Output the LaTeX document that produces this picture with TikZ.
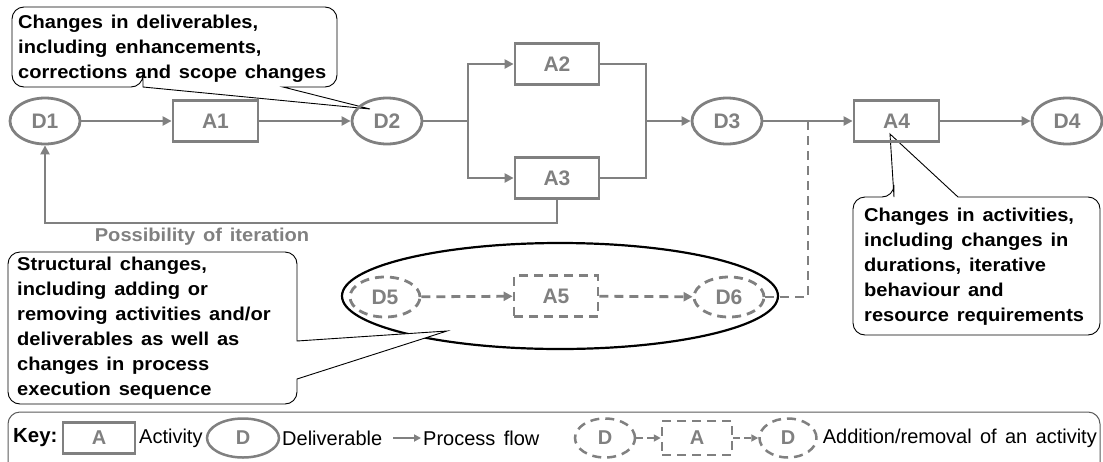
\documentclass[tikz,border=0pt]{standalone}
\usepackage{fontspec}
\setmainfont{Liberation Sans}
\newfontfamily\calfont[FakeStretch=1.08,WordSpace=1.4]{Liberation Sans}
\newfontfamily\keyfont[WordSpace=1.5]{Liberation Sans}
\usetikzlibrary{arrows.meta,shapes.geometric}
\definecolor{flowgray}{RGB}{128,128,128}
\definecolor{keyline}{RGB}{90,90,90}
\begin{document}
\begin{tikzpicture}[x=1pt,y=-1pt,
  lbl/.style={font=\fontsize{21}{21}\selectfont\bfseries, text=flowgray},
  act/.style={lbl, draw=flowgray, line width=2.8pt, minimum width=85pt, minimum height=41pt, inner sep=0pt},
  dlv/.style={lbl, ellipse, draw=flowgray, line width=2.8pt, minimum width=70pt, minimum height=46pt, inner sep=0pt},
  flow/.style={draw=flowgray, line width=2.8pt},
  flowarrow/.style={flow, -{Triangle[length=9pt,width=9pt]}},
  optional/.style={dash pattern=on 9pt off 6pt},
  note/.style={draw=black, line width=0.9pt, fill=white},
  notetext/.style={font=\calfont\bfseries\fontsize{18.6}{25}\selectfont, align=left, inner sep=0pt, anchor=north west},
  keytext/.style={font=\keyfont\fontsize{20}{20}\selectfont, inner sep=0pt, anchor=west},
  keyact/.style={act, line width=2.5pt, minimum width=72pt, minimum height=31pt, font=\fontsize{20}{20}\selectfont\bfseries},
  keydlv/.style={dlv, line width=2.5pt, minimum width=72pt, minimum height=39pt, font=\fontsize{20}{20}\selectfont\bfseries},
  keyarrow/.style={flow, line width=2.5pt, -{Triangle[length=7pt,width=7pt]}},
]
\useasboundingbox (0,0) rectangle (1103,461);

% group of optional elements
\node[ellipse, draw=black, line width=2.2pt, minimum width=436pt, minimum height=106pt] (grp) at (560,296) {};

% callouts
\draw[note] (143,87) -- (370,109) -- (283,87)
  {[rounded corners=12pt] -- (337,87) -- (337,7) -- (12,7) -- (12,87) -- (143,87)} -- cycle;
\node[notetext] (n1) at (18,14.5) {Changes in deliverables,\\including enhancements,\\corrections and scope changes};

\draw[note] (297,341) -- (447,331) -- (297,379)
  {[rounded corners=12pt] -- (297,404) -- (8,404) -- (8,252) -- (297,252) -- (297,341)} -- cycle;
\node[notetext] (n2) at (17,257) {Structural changes,\\including adding or\\removing activities and/or\\deliverables as well as\\changes in process\\execution sequence};

\draw[note] (894,197) -- (890,134) -- (958,197)
  {[rounded corners=12pt] -- (1100,197) -- (1100,335) -- (853,335) -- (853,197) -- (894,197)} -- cycle;
\node[notetext] (n3) at (864,208) {Changes in activities,\\including changes in\\durations, iterative\\behaviour and\\resource requirements};

% main process
\node[dlv] (D1) at (45,121) {D1};
\node[act] (A1) at (215.5,121) {A1};
\node[dlv] (D2) at (387,121) {D2};
\node[act, minimum width=84pt] (A2) at (557,64) {A2};
\node[act, minimum width=84pt] (A3) at (557,178) {A3};
\node[dlv] (D3) at (727,121) {D3};
\node[act] (A4) at (896.5,121) {A4};
\node[dlv] (D4) at (1067,121) {D4};

\coordinate (sp) at (468,121);
\coordinate (mj) at (646,121);
\coordinate (j4) at (808,121);

\draw[flowarrow] (D1) -- (A1);
\draw[flowarrow] (A1) -- (D2);
\draw[flow] (D2) -- (sp);
\draw[flowarrow] (sp) |- (A2.west);
\draw[flowarrow] (sp) |- (A3.west);
\draw[flow] (A2.east) -| (mj) |- (A3.east);
\draw[flowarrow] (mj) -- (D3);
\draw[flowarrow] (D3) -- (A4);
\draw[flowarrow] (A4) -- (D4);
\draw[flowarrow] (A3.south) -- ++(0,23) -| (D1.south);
\node[font=\calfont\bfseries\fontsize{18.6}{25}\selectfont, text=flowgray, inner sep=0pt] (it) at (202,237) {Possibility of iteration};

% optional elements
\node[dlv, optional, minimum height=40pt] (D5) at (385,297) {D5};
\node[act, optional, minimum width=84pt] (A5) at (556,296) {A5};
\node[dlv, optional, minimum height=40pt] (D6) at (729,297) {D6};
\coordinate (dj) at (808,297);
\draw[flowarrow, optional] (D5) -- (A5);
\draw[flowarrow, optional] (A5) -- (D6);
\draw[flow, optional] (D6) -- (dj) -- (j4);

% key
\draw[draw=keyline, line width=1pt, rounded corners=12pt] (8,412) rectangle (1100,490);
\node[keytext, font=\fontsize{20.4}{20.4}\selectfont\bfseries] (k0) at (13,438) {Key:};
\node[keyact] (kA) at (99,438) {A};
\node[keytext] (k1) at (139,438) {Activity};
\node[keydlv] (kD) at (243,438) {D};
\node[keytext] (k2) at (282,438) {Deliverable};
\coordinate (ka1) at (393,438);
\coordinate (ka2) at (421,438);
\draw[keyarrow, line width=2pt] (ka1) -- (ka2);
\node[keytext] (k3) at (423,438) {Process flow};
\node[keydlv, optional, minimum width=60pt] (kD1) at (605,438) {D};
\node[keyact, optional, minimum width=70pt, minimum height=34pt] (kA1) at (697,438) {A};
\node[keydlv, optional, minimum width=57pt] (kD2) at (788,438) {D};
\draw[keyarrow, dash pattern=on 7pt off 4pt] (kD1) -- (kA1);
\draw[keyarrow, dash pattern=on 7pt off 4pt] (kA1) -- (kD2);
\node[keytext, anchor=east] (k4) at (1097,438) {Addition/removal of an activity};
\end{tikzpicture}
\end{document}
